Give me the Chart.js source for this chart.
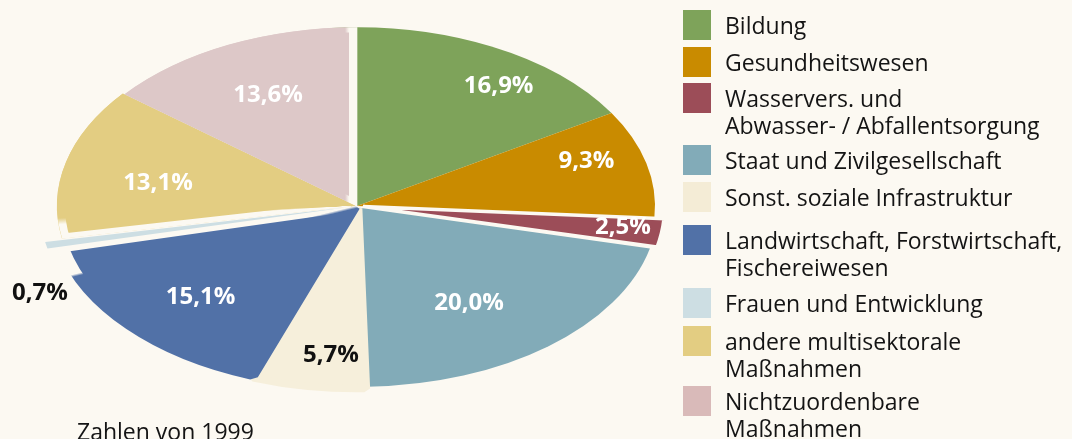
<!DOCTYPE html>
<html>
<head>
<meta charset="utf-8">
<script src="https://cdn.jsdelivr.net/npm/chart.js@4/dist/chart.umd.min.js"></script>
<style>
  html, body { margin: 0; padding: 0; background: #fcf9f2; }
  #wrap { position: relative; width: 1072px; height: 439px; overflow: hidden; font-family: "Open Sans", sans-serif; color: #141414; }
  #grafico { position: absolute; left: 0; top: 0; }
  .item { position: absolute; left: 683px; }
  .item .box { position: absolute; left: 0; top: 0; width: 28px; height: 30px; }
  .item .txt { position: absolute; left: 42px; top: 2px; font-size: 23px; line-height: 27px; white-space: nowrap; }
  #nota { position: absolute; left: 77px; top: 418px; font-size: 23px; line-height: 26px; }
</style>
</head>
<body>
<div id="wrap">
  <canvas id="grafico" width="1072" height="439"></canvas>
  <div id="legende"></div>
  <div id="nota">Zahlen von 1999</div>
</div>
<script>
// Daten
var kategorien = [
  "Bildung",
  "Gesundheitswesen",
  ["Wasservers. und", "Abwasser- / Abfallentsorgung"],
  "Staat und Zivilgesellschaft",
  "Sonst. soziale Infrastruktur",
  ["Landwirtschaft, Forstwirtschaft,", "Fischereiwesen"],
  "Frauen und Entwicklung",
  ["andere multisektorale", "Maßnahmen"],
  ["Nichtzuordenbare", "Maßnahmen"]
];
var anteile = [16.9, 9.3, 2.5, 20.0, 5.7, 15.1, 0.7, 13.1, 13.6];

// Stil
var hintergrund = "#fcf9f2";
var farben = ["#7ea35a", "#c98b00", "#9c4d58", "#82abb8", "#f6efdb", "#5171a7", "#cddee3", "#e3cd82", "#ddc8c8"];
var legendFarben = ["#7ea35a", "#c98b00", "#9c4d58", "#82abb8", "#f4ecd6", "#5171a7", "#cddee3", "#e3cd82", "#d9bab9"];
var explode = [0, 0, 24, 16, 16, 16, 40, 8, 0];
var rand = [0, 0, 6, 0, 12, 12, 0, 8, 8];
var randLage = ["center", "center", "center", "center", "center", "center", "center", "inner", "inner"];
var textFarbe = ["#fff", "#fff", "#fff", "#fff", "#111", "#fff", "#111", "#fff", "#fff"];
var labelRadius = [0.82, 0.81, 0.9, 0.66, 0.84, 0.73, 1.17, 0.68, 0.69];
var labelWinkel = [8.6, -4.3, -0.9, 4.5, -3.2, -2.4, -12.7, -3.3, 0];
var legendeOben = [10, 47, 83, 145, 182, 225, 288, 326, 386];

var mitteX = 357, mitteY = 206, radius = 298;
var stauchung = 0.6;
var drehung = -5, umfang = 365;

function prozent(v) {
  return v.toFixed(1).replace(".", ",") + "%";
}

// Legende
var leg = document.getElementById("legende");
kategorien.forEach(function(k, i) {
  var zeilen = Array.isArray(k) ? k : [k];
  var d = document.createElement("div");
  d.className = "item";
  d.style.top = legendeOben[i] + "px";
  d.innerHTML = '<div class="box" style="background:' + legendFarben[i] + '"></div>' +
    '<div class="txt">' + zeilen.join("<br>") + '</div>';
  leg.appendChild(d);
});

var ctx = document.getElementById("grafico").getContext("2d");

// Rand nur auf einer Seite einer Linie durch die Mitte sichtbar (Winkel in Grad)
function halbRand(farbe, winkel, seite) {
  var a = (winkel + 90 * seite) * Math.PI / 180;
  var dx = Math.cos(a) * 2, dy = Math.sin(a) * 2;
  var g = ctx.createLinearGradient(mitteX - dx, mitteY - dy, mitteX + dx, mitteY + dy);
  g.addColorStop(0, farbe);
  g.addColorStop(1, hintergrund);
  return g;
}
// Rand nur in einem Winkelbereich sichtbar
function sektorRand(farbe, von, bis) {
  if (!ctx.createConicGradient) return halbRand(farbe, bis, -1);
  var g = ctx.createConicGradient(0, mitteX, mitteY);
  g.addColorStop(0, farbe);
  g.addColorStop((von - 2) / 360, farbe);
  g.addColorStop(von / 360, hintergrund);
  g.addColorStop(bis / 360, hintergrund);
  g.addColorStop((bis + 2) / 360, farbe);
  g.addColorStop(1, farbe);
  return g;
}
var pinkRand = ctx.createLinearGradient(mitteX - 12, 0, mitteX - 8, 0);
pinkRand.addColorStop(0, farben[8]);
pinkRand.addColorStop(1, hintergrund);
var randFarben = [hintergrund, hintergrund, hintergrund, hintergrund, farben[4],
  halbRand(farben[5], 158, 1), hintergrund, sektorRand(farben[7], 164, 174), pinkRand];

// Kreis zur Ellipse stauchen, danach Prozentwerte schreiben
var ellipse = {
  id: "ellipse",
  beforeDatasetsDraw: function(chart) {
    var a = chart.getDatasetMeta(0).data[0];
    var c = chart.ctx;
    c.save();
    c.translate(0, a.y);
    c.scale(1, stauchung);
    c.translate(0, -a.y);
  },
  afterDatasetsDraw: function(chart) {
    var c = chart.ctx;
    c.restore();
    var arcs = chart.getDatasetMeta(0).data;
    c.save();
    c.font = "bold 24px 'Open Sans'";
    c.textAlign = "center";
    c.textBaseline = "middle";
    arcs.forEach(function(arc, i) {
      var p = arc.getProps(["x", "y", "startAngle", "endAngle", "outerRadius"], true);
      var mid = (p.startAngle + p.endAngle) / 2;
      var w = mid + labelWinkel[i] * Math.PI / 180;
      var r = labelRadius[i] * p.outerRadius;
      var x = p.x + Math.cos(w) * r;
      var y = p.y + Math.sin(w) * r * stauchung;
      c.fillStyle = textFarbe[i];
      c.fillText(prozent(anteile[i]), x, y);
    });
    c.restore();
  }
};

var chart = new Chart(ctx, {
  type: "pie",
  data: {
    labels: kategorien,
    datasets: [{
      data: anteile,
      backgroundColor: farben,
      borderColor: randFarben,
      borderWidth: rand,
      borderAlign: randLage,
      offset: explode,
      radius: radius,
      rotation: drehung,
      circumference: umfang,
      clip: false
    }]
  },
  options: {
    responsive: false,
    animation: false,
    events: [],
    layout: { padding: { left: 0, top: 0, right: 1072 - 2 * mitteX, bottom: 439 - 2 * mitteY } },
    plugins: { legend: { display: false }, tooltip: { enabled: false } }
  },
  plugins: [ellipse]
});
</script>
</body>
</html>
